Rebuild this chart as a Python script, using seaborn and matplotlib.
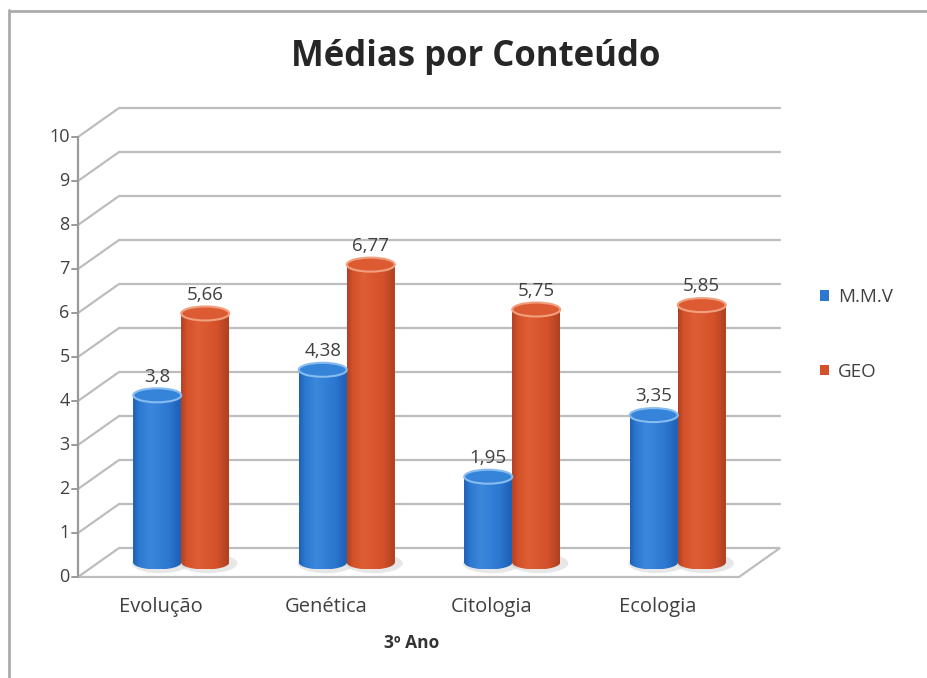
import numpy as np
import pandas as pd
import matplotlib
matplotlib.use("Agg")
import matplotlib.pyplot as plt
import seaborn as sns
from matplotlib.patches import Ellipse, PathPatch, Polygon
from matplotlib.path import Path
from matplotlib.colors import LinearSegmentedColormap
from matplotlib.lines import Line2D
from matplotlib.patches import Rectangle

# ---------------- data ----------------
categorias = ["Evolução", "Genética", "Citologia", "Ecologia"]
series = ["M.M.V", "GEO"]
mmv = [3.8, 4.38, 1.95, 3.35]
geo = [5.66, 6.77, 5.75, 5.85]
yticks = [0, 1, 2, 3, 4, 5, 6, 7, 8, 9, 10]
titulo = "Médias por Conteúdo"
xlabel = "3º Ano"

df = pd.DataFrame({
    "Conteúdo": categorias * 2,
    "Média": mmv + geo,
    "Série": [series[0]] * len(categorias) + [series[1]] * len(categorias),
})

# ---------------- style ----------------
sns.set_theme(style="white")
plt.rcParams["font.family"] = ["Open Sans", "DejaVu Sans"]

base_cols = ["#2C77D0", "#D4512A"]
dark_cols = ["#1E5FB2", "#AE4021"]
light_cols = ["#3A88DC", "#DE5E35"]
cap_cols = ["#3683DA", "#DC5B33"]
rim_cols = ["#86BCF0", "#F0A07E"]
grid_col = "#BDBDBD"
text_col = "#404040"

W, H = 927, 678
fig = plt.figure(figsize=(W / 100, H / 100), dpi=100)
px_l, px_r, px_t, px_b = 60, 800, 100, 600
ax = fig.add_axes([px_l / W, (H - px_b) / H, (px_r - px_l) / W, (px_b - px_t) / H])

sns.barplot(data=df, x="Conteúdo", y="Média", hue="Série", palette=base_cols,
            width=0.58, saturation=1, errorbar=None, legend=False, ax=ax, zorder=3,
            linewidth=0)

sx = 165.5   # px per category
sy = 44.0    # px per unit
x_min = -0.5 - (98.5 - px_l) / sx
x_max = x_min + (px_r - px_l) / sx
y_min = -(px_b - 562.5) / sy
y_max = y_min + (px_b - px_t) / sy
ax.set_xlim(x_min, x_max)
ax.set_ylim(y_min, y_max)
ax.axis("off")

ddx = 20.5 / sx
ddy = 14.5 / sy
xf = x_min + (78 - px_l) / sx
xb = xf + 2 * ddx
xbr = x_min + (780 - px_l) / sx
xfr = xbr - 2 * ddx

for v in yticks:
    if v == 0:
        continue
    ax.plot([xf, xb, xbr], [v - ddy, v + ddy, v + ddy], color=grid_col, lw=1.6, zorder=1,
            solid_joinstyle="miter", clip_on=False)
floor = Polygon([[xf, -ddy], [xfr, -ddy], [xbr, ddy], [xb, ddy]], closed=True,
                facecolor="white", edgecolor=grid_col, lw=1.6, zorder=1, clip_on=False)
ax.add_patch(floor)
ax.plot([xf, xf], [-ddy, yticks[-1] - ddy], color="#9A9A9A", lw=1.6, zorder=2, clip_on=False)
tick_len = 6 / sx
for v in yticks:
    ax.plot([xf - tick_len, xf], [v - ddy, v - ddy], color="#9A9A9A", lw=1.4, zorder=2,
            clip_on=False)
    ax.text(xf - 0.05, v - ddy, str(v), ha="right", va="center", fontsize=13,
            color=text_col, clip_on=False)

eh = 14 / sy
for i, cont in enumerate(ax.containers):
    cmap = LinearSegmentedColormap.from_list(
        "c%d" % i, [(0, dark_cols[i]), (0.12, base_cols[i]), (0.35, light_cols[i]),
                    (0.75, base_cols[i]), (1, dark_cols[i])])
    for patch, val in zip(cont.patches, cont.datavalues):
        x0 = patch.get_x()
        w = patch.get_width()
        h = patch.get_height()
        x1 = x0 + w
        xc = x0 + w / 2
        sh = Ellipse((xc + 0.02, -0.02), w * 1.2, eh * 1.4, facecolor="#D0D0D0",
                     edgecolor="none", alpha=0.5, zorder=2)
        ax.add_patch(sh)
        t = np.linspace(np.pi, 2 * np.pi, 40)
        ex = xc + (w / 2) * np.cos(t)
        ey = (eh / 2) * np.sin(t)
        verts = [(x0, h), (x0, 0)] + list(zip(ex, ey)) + [(x1, 0), (x1, h), (x0, h)]
        codes = [Path.MOVETO] + [Path.LINETO] * (len(verts) - 2) + [Path.CLOSEPOLY]
        clip = PathPatch(Path(verts, codes), transform=ax.transData, facecolor="none",
                         edgecolor="none")
        ax.add_patch(clip)
        grad = np.linspace(0, 1, 256).reshape(1, -1)
        im = ax.imshow(grad, extent=(x0, x1, -eh / 2, h), aspect="auto", cmap=cmap,
                       origin="lower", zorder=4, interpolation="bicubic")
        im.set_clip_path(clip)
        cap = Ellipse((xc, h), w, eh, facecolor=cap_cols[i], edgecolor=rim_cols[i],
                      lw=1.5, zorder=5)
        ax.add_patch(cap)
        lab = ("%g" % val).replace(".", ",")
        ax.text(xc, h + eh / 2 + 0.06, lab, ha="center", va="bottom", fontsize=13.5,
                color=text_col, zorder=6)

ax.set_xlim(x_min, x_max)
ax.set_ylim(y_min, y_max)

for k, c in enumerate(categorias):
    ax.text(k - ddx, y_min - 7 / sy, c, ha="center", va="center", fontsize=14.5,
            color=text_col, clip_on=False)

fig.text(412 / W, 1 - 643 / H, xlabel, ha="center", va="center", fontsize=12.5,
         fontweight="bold", color="#333333")
fig.text(476 / W, 1 - 57 / H, titulo, ha="center", va="center", fontsize=25,
         fontweight="bold", color="#262626")

handles = [Rectangle((0, 0), 1, 1, facecolor=base_cols[i], edgecolor="none") for i in range(2)]
ax.legend(handles, series, loc="center left", bbox_to_anchor=(803 / W, 1 - 334.5 / H),
          bbox_transform=fig.transFigure, frameon=False, fontsize=13.5,
          handlelength=0.5, handleheight=0.5, handletextpad=0.45, labelspacing=3.0,
          labelcolor=text_col)

fig.add_artist(Line2D([9 / W, 9 / W], [0, 1 - 10 / H], transform=fig.transFigure,
                      color="#ABABAB", lw=2))
fig.add_artist(Line2D([9 / W, 1], [1 - 11 / H, 1 - 11 / H], transform=fig.transFigure,
                      color="#ABABAB", lw=2))

fig.savefig("out.png", dpi=100)
